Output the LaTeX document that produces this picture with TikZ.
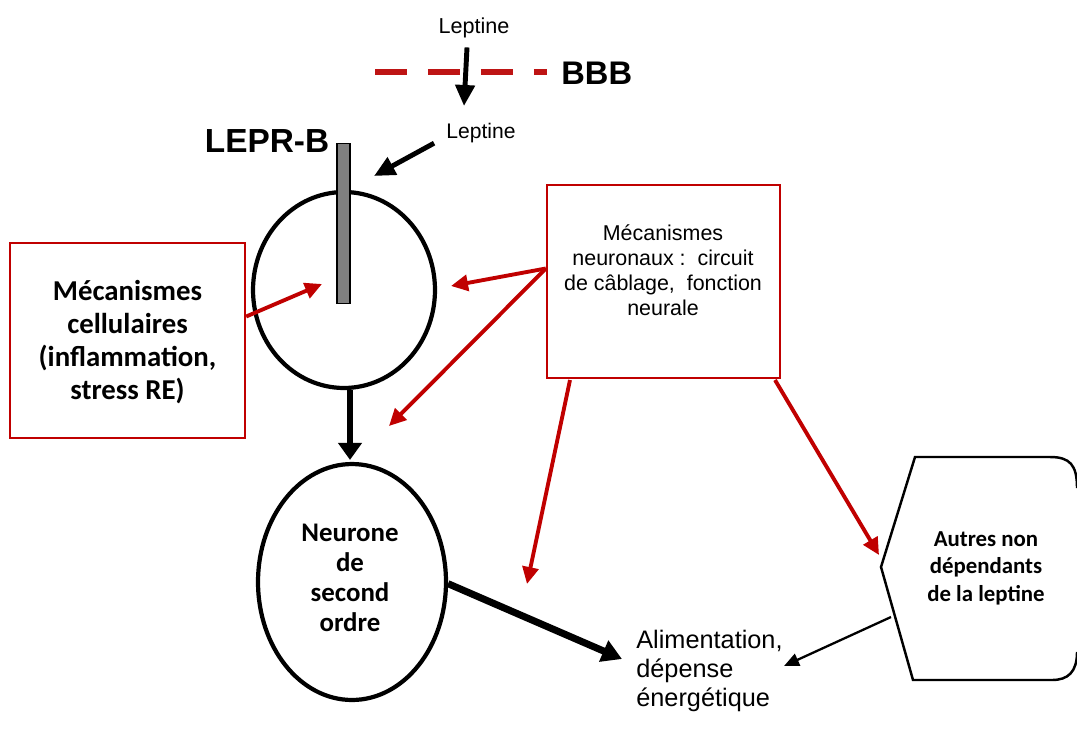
\documentclass[tikz,border=0pt]{standalone}
\usepackage{fontspec}
\setmainfont{Liberation Sans}
\newfontfamily\calib{Carlito}
\usetikzlibrary{shapes.geometric,arrows.meta,calc}
\definecolor{myred}{RGB}{192,0,0}
\definecolor{dashred}{RGB}{190,20,20}
\begin{document}
\begin{tikzpicture}[x={(0.02cm,0)}, y={(0,-0.02cm)},
  redbox/.style={draw=myred, line width=1.4pt, inner sep=0pt},
  redarrow/.style={draw=myred, line width=2.2pt, -{Triangle[length=0.34cm,width=0.32cm]}},
  blackarrow/.style={line width=2.8pt, -{Triangle[length=0.42cm,width=0.38cm]}},
  cell/.style={draw, ellipse, line width=2.4pt, inner sep=0pt},
  txt/.style={inner sep=0pt, align=center}]
\useasboundingbox (0,0) rectangle (1077,737);

% top labels
\node[txt, font=\fontsize{12.3}{14}\selectfont] (lep1) at (474,28) {Leptine};
\node[txt, anchor=west, font=\bfseries\fontsize{18.6}{20}\selectfont] (bbb) at (561,73) {BBB};
\node[txt, font=\fontsize{12}{14}\selectfont] (lep2) at (481,133) {Leptine};
\node[txt, font=\bfseries\fontsize{19}{21}\selectfont] (lepr) at (267,141) {LEPR-B};

% BBB dashed line
\coordinate (bbbL) at (375,72);
\draw[dashred, line width=3.4pt, dash pattern=on 0.64cm off 0.42cm] (bbbL) -- ($(bbb.west)+(-14,-1)$);

% cells
\node[cell, minimum width=3.64cm, minimum height=3.92cm] (c1) at (344,290) {};
\node[draw, fill=gray, line width=0.9pt, minimum width=0.26cm, minimum height=3.2cm, inner sep=0pt] (rec) at (343.5,223.5) {};
\node[cell, minimum width=3.76cm, minimum height=4.72cm] (c2) at (352,582) {};
\node[txt, font=\calib\bfseries\fontsize{15.3}{17}\selectfont] (c2t) at (350,578) {Neurone\\de\\second\\ordre};

% boxes
\node[redbox, minimum width=4.7cm, minimum height=3.9cm] (lbox) at (127.5,340.5) {};
\node[txt, font=\calib\bfseries\fontsize{16.4}{18.7}\selectfont] (ltext) at (127.5,342) {Mécanismes\\cellulaires\\(inflammation,\\stress RE)};

\node[redbox, minimum width=4.66cm, minimum height=3.86cm] (nbox) at (663.5,281.5) {};
\node[txt, font=\fontsize{12.2}{14.2}\selectfont] (ntext) at (663,270) {Mécanismes\\neuronaux :\ \ circuit\\de câblage,\ \ fonction\\neurale};

% alimentation
\node[txt, anchor=west, align=left, font=\fontsize{14.4}{16.4}\selectfont] (alim) at (636,671) {Alimentation,\\dépense\\énergétique};

% hexagon
\coordinate (h1) at (915,457);
\coordinate (h7) at (881,567);
\coordinate (h6) at (913,680);
\draw[line width=1.4pt] (1077,488) .. controls (1077,465) and (1070,457) .. (1050,457) -- (h1) -- (h7) -- (h6) -- (1052,680) .. controls (1068,680) and (1077,672) .. (1077,652);
\node[txt, font=\calib\bfseries\fontsize{13}{15.6}\selectfont] (hex) at (986,568) {Autres non\\dépendants\\de la leptine};

% free ends
\coordinate (t1) at (464,106);
\coordinate (t2) at (374,176);
\coordinate (t3) at (322,284);
\coordinate (t4) at (451,286);
\coordinate (t5) at (389,426);
\coordinate (t6) at (527,584);
\coordinate (t7) at (879,555);
\coordinate (t8) at (784,666);
\coordinate (a5) at (570,380);
\coordinate (a6) at (775,380);
\coordinate (a7) at (891,617);

% black arrows
\draw[blackarrow] ($(lep1.south)+(-7,9)$) -- (t1);
\draw[blackarrow] ($(lep2.south west)+(-12,0)$) -- (t2);
\draw[line width=3.6pt, -{Triangle[length=0.34cm,width=0.46cm]}] ($(c1.south)+(6,0)$) -- ($(c1.south |- c2.north)+(6,-2)$);
\draw[line width=4pt, -{Triangle[length=0.4cm,width=0.44cm]}] (c2.-1) -- ($(alim.west)+(-14,-12)$);
\draw[line width=1.3pt, -{Triangle[length=0.3cm,width=0.26cm]}] (a7) -- (t8);

% red arrows
\draw[redarrow] ($(lbox.east)+(0,-24)$) -- (t3);
\draw[redarrow] ($(nbox.west)+(0,-13)$) -- (t4);
\draw[redarrow] ($(nbox.west)+(0,-13)$) -- (t5);
\draw[redarrow] (a5) -- (t6);
\draw[redarrow] (a6) -- (t7);
\end{tikzpicture}
\end{document}
